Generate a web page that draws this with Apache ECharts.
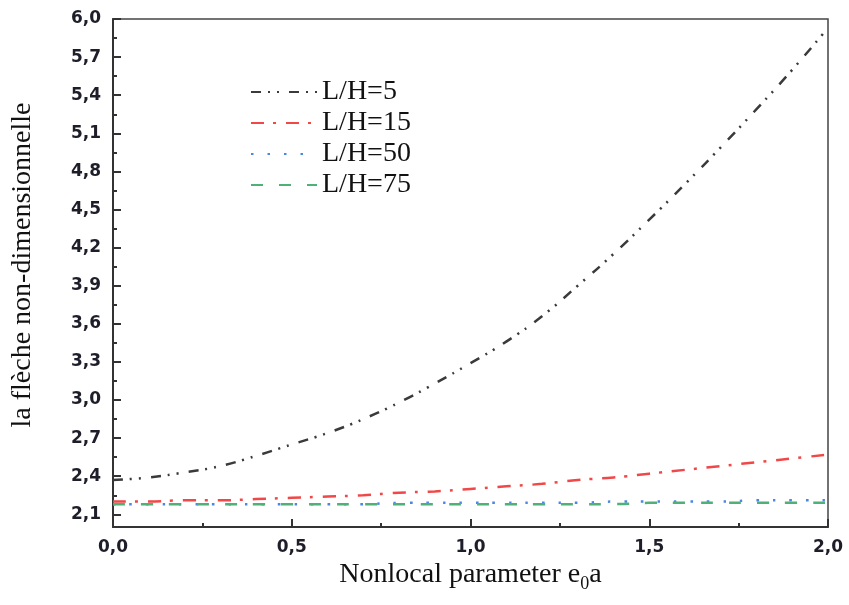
<!DOCTYPE html>
<html>
<head>
<meta charset="utf-8">
<script src="https://cdn.jsdelivr.net/npm/echarts@6/dist/echarts.min.js"></script>
<style>
  html, body { margin: 0; padding: 0; background: #fff; }
  #chart { width: 849px; height: 605px; }
</style>
</head>
<body>
<div id="chart"></div>
<script>
// nonlocal parameter e0a
var xs = [0, 0.1, 0.2, 0.3, 0.4, 0.5, 0.6, 0.7, 0.8, 0.9, 1.0,
          1.1, 1.2, 1.3, 1.4, 1.5, 1.6, 1.7, 1.8, 1.9, 2.0];

// la flèche non-dimensionnelle
var lh5  = [2.37, 2.39, 2.43, 2.48, 2.56, 2.65, 2.74, 2.85, 2.98, 3.13, 3.29,
            3.46, 3.66, 3.90, 4.15, 4.42, 4.70, 4.99, 5.29, 5.60, 5.93];
var lh15 = [2.20, 2.20, 2.21, 2.21, 2.22, 2.23, 2.24, 2.25, 2.27, 2.28, 2.30,
            2.32, 2.34, 2.37, 2.39, 2.42, 2.45, 2.48, 2.51, 2.54, 2.57];
var lh50 = [2.18, 2.18, 2.18, 2.18, 2.18, 2.18, 2.18, 2.18, 2.19, 2.19, 2.19,
            2.19, 2.19, 2.19, 2.20, 2.20, 2.20, 2.20, 2.21, 2.21, 2.21];
var lh75 = [2.18, 2.18, 2.18, 2.18, 2.18, 2.18, 2.18, 2.18, 2.18, 2.18, 2.18,
            2.18, 2.18, 2.18, 2.18, 2.19, 2.19, 2.19, 2.19, 2.19, 2.19];

var names = ["L/H=5", "L/H=15", "L/H=50", "L/H=75"];

// tick positions
var yMajor = [2.1, 2.4, 2.7, 3.0, 3.3, 3.6, 3.9, 4.2, 4.5, 4.8, 5.1, 5.4, 5.7, 6.0];
var yMinor = [2.25, 2.55, 2.85, 3.15, 3.45, 3.75, 4.05, 4.35, 4.65, 4.95, 5.25, 5.55, 5.85];

function pairs(ys) {
  return xs.map(function(x, i) { return [x, ys[i]]; });
}
function comma(v) {
  return v.toFixed(1).replace(".", ",");
}

var axisColor = "#333";
var labelFont = {
  fontFamily: "DejaVu Sans",
  fontWeight: "bold",
  fontSize: 17,
  color: "#1e1e2a"
};

var chart = echarts.init(document.getElementById("chart"), null, { renderer: "canvas" });

var option = {
  backgroundColor: "#fff",
  animation: false,
  grid: {
    left: 113,
    right: 21,
    top: 19,
    bottom: 78,
    show: true,
    borderColor: "#444",
    borderWidth: 1.5
  },
  legend: {
    orient: "vertical",
    left: 245,
    top: 73,
    itemWidth: 66,
    itemHeight: 14,
    itemGap: 3,
    data: names,
    // hide the circle that line series put in the legend
    itemStyle: { opacity: 0 },
    textStyle: {
      fontFamily: "Liberation Serif",
      fontSize: 28,
      color: "#111"
    }
  },
  xAxis: {
    type: "value",
    min: 0,
    max: 2,
    interval: 0.5,
    name: "Nonlocal parameter e{sub|0}a",
    nameLocation: "middle",
    nameGap: 33,
    nameTextStyle: {
      fontFamily: "Liberation Serif",
      fontSize: 28,
      color: "#111",
      rich: {
        sub: {
          fontFamily: "Liberation Serif",
          fontSize: 18,
          color: "#111",
          verticalAlign: "bottom",
          padding: [0, 0, -4, 0]
        }
      }
    },
    axisLine: { lineStyle: { color: axisColor, width: 2 } },
    axisTick: { inside: true, length: 8, lineStyle: { color: axisColor, width: 2 } },
    minorTick: { show: true, splitNumber: 2, length: 4, lineStyle: { color: axisColor, width: 2 } },
    splitLine: { show: false },
    axisLabel: Object.assign({ margin: 12, formatter: comma }, labelFont)
  },
  yAxis: [
    {
      type: "value",
      min: 2.0,
      max: 6.0,
      name: "la flèche non-dimensionnelle",
      nameLocation: "middle",
      nameGap: 76,
      nameTextStyle: {
        fontFamily: "Liberation Serif",
        fontSize: 28,
        color: "#111",
        padding: [0, 0, 0, 16]
      },
      axisLine: { lineStyle: { color: axisColor, width: 2 } },
      axisTick: {
        inside: true,
        length: 8,
        customValues: yMajor,
        lineStyle: { color: axisColor, width: 2 }
      },
      splitLine: { show: false },
      axisLabel: Object.assign({ margin: 12, customValues: yMajor, formatter: comma }, labelFont)
    },
    {
      type: "value",
      min: 2.0,
      max: 6.0,
      position: "left",
      axisLine: { show: false },
      axisLabel: { show: false },
      splitLine: { show: false },
      axisTick: {
        inside: true,
        length: 4,
        customValues: yMinor,
        lineStyle: { color: axisColor, width: 2 }
      }
    }
  ],
  series: [
    {
      name: names[0],
      type: "line",
      smooth: true,
      symbol: "none",
      data: pairs(lh5),
      lineStyle: { color: "#3a3a3a", width: 2.5, type: [10, 7, 2, 7, 2, 10] },
      itemStyle: { color: "#3a3a3a" }
    },
    {
      name: names[1],
      type: "line",
      smooth: true,
      symbol: "none",
      data: pairs(lh15),
      lineStyle: { color: "#f04848", width: 2.5, type: [13, 9, 3, 10] },
      itemStyle: { color: "#f04848" }
    },
    {
      name: names[2],
      type: "line",
      smooth: true,
      symbol: "none",
      data: pairs(lh50),
      lineStyle: { color: "#4a86e6", width: 2.5, type: [2.5, 14] },
      itemStyle: { color: "#4a86e6" }
    },
    {
      name: names[3],
      type: "line",
      smooth: true,
      symbol: "none",
      data: pairs(lh75),
      lineStyle: { color: "#4fb078", width: 2.5, type: [12, 16] },
      itemStyle: { color: "#4fb078" }
    }
  ]
};

chart.setOption(option);
</script>
</body>
</html>
